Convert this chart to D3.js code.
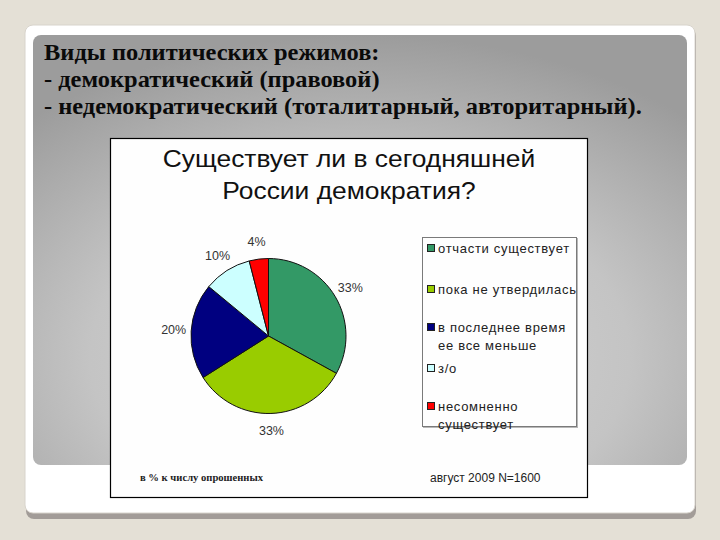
<!DOCTYPE html>
<html><head><meta charset="utf-8">
<script src="https://cdn.jsdelivr.net/npm/d3@7"></script>
<style>body{margin:0;background:#e4e0d6;}svg{display:block;}</style>
</head><body>
<script>
const slideLines = ["Виды политических режимов:", "- демократический (правовой)", "- недемократический (тоталитарный, авторитарный)."];
const chartTitle = ["Существует ли в сегодняшней", "России демократия?"];
const categories = ["отчасти существует", "пока не утвердилась", "в последнее время ее все меньше", "з/о", "несомненно существует"];
const legendLines = [["отчасти существует"], ["пока не утвердилась"], ["в последнее время", "ее все меньше"], ["з/о"], ["несомненно", "существует"]];
const values = [33, 33, 20, 10, 4];
const valueLabels = ["33%", "33%", "20%", "10%", "4%"];
const colors = ["#339966", "#99cc00", "#000080", "#ccffff", "#ff0000"];
const footLeft = "в % к числу опрошенных";
const footRight = "август 2009 N=1600";

const W = 720, H = 540;
const svg = d3.select("body").append("svg").attr("width", W).attr("height", H);
const defs = svg.append("defs");
const rg = defs.append("radialGradient").attr("id", "panelGrad")
  .attr("cx", "50%").attr("cy", "75%").attr("r", "75%");
rg.append("stop").attr("offset", "0%").attr("stop-color", "#d6d6d6");
rg.append("stop").attr("offset", "55%").attr("stop-color", "#c4c4c4");
rg.append("stop").attr("offset", "100%").attr("stop-color", "#9c9c9c");

// slide background
svg.append("rect").attr("width", W).attr("height", H).attr("fill", "#e4e0d6");
// card shadow + card
svg.append("rect").attr("x", 26).attr("y", 28).attr("width", 670).attr("height", 491).attr("rx", 8).attr("fill", "#a29c98");
svg.append("rect").attr("x", 25).attr("y", 25).attr("width", 670).attr("height", 488).attr("rx", 8)
  .attr("fill", "#ffffff").attr("stroke", "#d8d4cc").attr("stroke-width", 1);
// gray panel
svg.append("rect").attr("x", 33).attr("y", 35).attr("width", 654).attr("height", 430).attr("rx", 8)
  .attr("fill", "url(#panelGrad)");

// slide heading
svg.append("g").attr("transform", "translate(44,0) scale(1.04,1)")
  .selectAll("text").data(slideLines).join("text")
  .attr("x", 0).attr("y", (d, i) => 60 + i * 27)
  .attr("font-family", "'Liberation Serif','Times New Roman',serif")
  .attr("font-weight", "bold").attr("font-size", 23.5).attr("fill", "#0a0a0a")
  .text(d => d);

// chart image
const cx0 = 110, cy0 = 138, cw = 477, ch = 359;
svg.append("rect").attr("x", cx0 + 0.5).attr("y", cy0 + 0.5).attr("width", cw).attr("height", ch)
  .attr("fill", "#fefefe").attr("stroke", "#000").attr("stroke-width", 1.2);

svg.append("g").attr("transform", "translate(349,0) scale(1.1,1)")
  .selectAll("text").data(chartTitle).join("text")
  .attr("x", 0).attr("y", (d, i) => 167 + i * 32)
  .attr("text-anchor", "middle")
  .attr("font-family", "Arial,'Liberation Sans',sans-serif").attr("font-size", 24).attr("fill", "#111")
  .text(d => d);

// pie
const pcx = 268.5, pcy = 336, R = 77.5;
const pie = d3.pie().sort(null).value(d => d)(values);
const arc = d3.arc().innerRadius(0).outerRadius(R);
const labelArc = d3.arc().innerRadius(95).outerRadius(95);
const pg = svg.append("g").attr("transform", `translate(${pcx},${pcy})`);
pg.selectAll("path").data(pie).join("path")
  .attr("d", arc).attr("fill", (d, i) => colors[i])
  .attr("stroke", "#111").attr("stroke-width", 1).attr("stroke-linejoin", "round");
pg.selectAll("text").data(pie).join("text")
  .attr("transform", d => `translate(${labelArc.centroid(d)})`)
  .attr("text-anchor", "middle").attr("dy", "0.35em")
  .attr("font-family", "Arial,'Liberation Sans',sans-serif").attr("font-size", 12.5).attr("fill", "#333")
  .text((d, i) => valueLabels[i]);

// legend
const lg = svg.append("g");
lg.append("rect").attr("x", 423).attr("y", 238).attr("width", 155).attr("height", 190).attr("fill", "#b8b8b8");
lg.append("rect").attr("x", 422.5).attr("y", 237.5).attr("width", 154).attr("height", 189)
  .attr("fill", "#fefefe").attr("stroke", "#7a7a7a").attr("stroke-width", 1);
const itemY = [248, 289, 327, 368, 406];
const items = lg.selectAll("g.item").data(categories).join("g").attr("class", "item")
  .attr("transform", (d, i) => `translate(427,${itemY[i]})`);
items.append("rect").attr("x", 0.5).attr("y", -3.5).attr("width", 7).attr("height", 7)
  .attr("fill", (d, i) => colors[i]).attr("stroke", "#222").attr("stroke-width", 1);
items.each(function (d, i) {
  d3.select(this).selectAll("text").data(legendLines[i]).join("text")
    .attr("x", 11).attr("y", (t, j) => j * 18).attr("dy", "0.35em")
    .attr("font-family", "Arial,'Liberation Sans',sans-serif").attr("font-size", 13)
    .attr("letter-spacing", 0.7).attr("fill", "#222")
    .text(t => t);
});

// footer
svg.append("text").attr("x", 140).attr("y", 481)
  .attr("font-family", "'Liberation Serif','Times New Roman',serif").attr("font-weight", "bold")
  .attr("font-size", 10.6).attr("fill", "#222").text(footLeft);
svg.append("text").attr("x", 430).attr("y", 482)
  .attr("font-family", "Arial,'Liberation Sans',sans-serif").attr("font-size", 12).attr("fill", "#222")
  .text(footRight);
</script>
</body></html>
